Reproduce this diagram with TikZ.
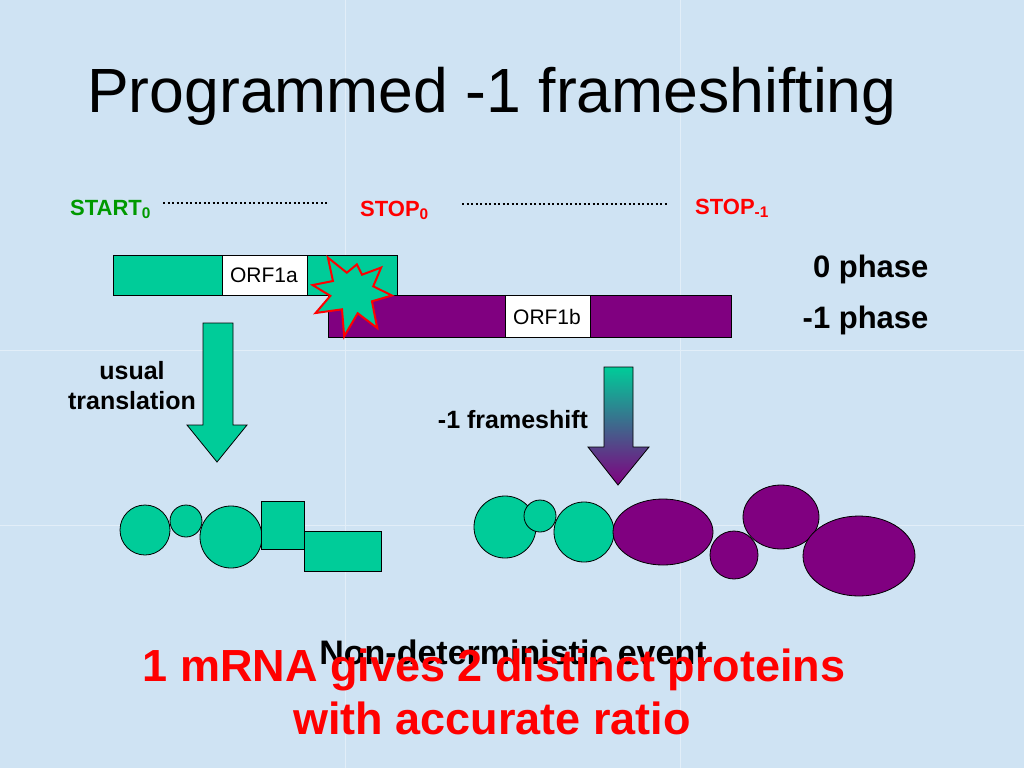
\documentclass[tikz,border=0pt]{standalone}
\usepackage{fontspec}
\setmainfont{Liberation Sans}
\usetikzlibrary{shapes.geometric}
\definecolor{bg}{HTML}{CFE3F3}
\definecolor{teal}{HTML}{00CC99}
\definecolor{purp}{HTML}{800080}
\definecolor{grn}{HTML}{009900}
\begin{document}
\begin{tikzpicture}[x=1pt,y=-1pt,
  gbox/.style={draw=black,fill=teal,line width=0.8pt},
  pbox/.style={draw=black,fill=purp,line width=0.8pt},
  lab/.style={font=\bfseries\fontsize{22}{25}\selectfont},
  mid/.style={font=\bfseries\fontsize{25}{30}\selectfont},
  small/.style={font=\fontsize{21}{24}\selectfont},
  phase/.style={font=\bfseries\fontsize{31}{34}\selectfont,anchor=base east},
  dots/.style={line width=2pt,dash pattern=on 2pt off 2.5pt}]
\useasboundingbox (0,0) rectangle (1024,768);
\fill[bg] (0,0) rectangle (1024,768);
\draw[white!40!bg,line width=1pt] (345,0)--(345,768) (680,0)--(680,768) (0,350)--(1024,350) (0,525)--(1024,525);
\node[font=\fontsize{62.5}{68}\selectfont,anchor=base west,inner sep=0pt] (title) at (87,112) {Programmed -1 frameshifting};
% labels
\node[lab,text=grn,anchor=base west,inner sep=0pt] (start) at (70,215) {START\textsubscript{0}};
\node[lab,text=red,anchor=base west,inner sep=0pt] (stop0) at (360,216) {STOP\textsubscript{0}};
\node[lab,text=red,anchor=base west,inner sep=0pt] (stop1) at (695,214) {STOP\textsubscript{-1}};
\coordinate (d1a) at (163,203); \coordinate (d1b) at (328,203);
\coordinate (d2a) at (462,204); \coordinate (d2b) at (668,204);
\draw[dots] (d1a)--(d1b); \draw[dots] (d2a)--(d2b);
% ORF boxes
\draw[gbox] (113,255) rectangle (397,295);
\draw[line width=0.8pt,fill=white] (222,255) rectangle (307,295);
\node[small] (orfa) at (264,275) {ORF1a};
\draw[pbox] (328,295) rectangle (731,337);
\draw[line width=0.8pt,fill=white] (505,295) rectangle (590,337);
\node[small] (orfb) at (547,317) {ORF1b};
% starburst
\draw[red,fill=teal,line width=2pt] (352,292)
  +(100:45) -- +(120:20) -- +(150:42) -- +(170:22) -- +(190:40) -- +(210:22) -- +(235:42) -- +(255:20) -- +(280:28) -- +(300:20) -- +(320:38) -- +(345:22) -- +(5:40) -- +(25:22) -- +(55:44) -- +(75:22) -- cycle;
\node[phase] (ph0) at (932,277) {0 phase};
\node[phase] (ph1) at (932,328) {-1 phase};
% arrows
\draw[black,fill=teal,line width=0.8pt] (203,323)--(233,323)--(233,425)--(247,425)--(217,462)--(187,425)--(203,425)--cycle;
\node[mid,align=center] (usual) at (132,386) {usual\\translation};
\shade[top color=teal,bottom color=purp,draw=black,line width=0.8pt] (604,367)--(633,367)--(633,447)--(649,447)--(618,485)--(588,447)--(604,447)--cycle;
\node[mid] (fs) at (513,420) {-1 frameshift};
% proteins
\tikzset{g/.style={draw=black,fill=teal,line width=0.8pt},p/.style={draw=black,fill=purp,line width=0.8pt}}
\draw[g] (145,530) circle (25);
\draw[g] (186,521) circle (16);
\draw[g] (231,537) circle (31);
\draw[g] (261,501) rectangle (304,549);
\draw[g] (304,531) rectangle (381,571);
\draw[g] (505,527) circle (31);
\draw[g] (540,516) circle (16);
\draw[g] (584,532) circle (30);
\draw[p] (663,532) ellipse [x radius=50,y radius=33];
\draw[p] (734,555) circle (24);
\draw[p] (781,517) ellipse [x radius=38,y radius=32];
\draw[p] (859,556) ellipse [x radius=56,y radius=40];
% bottom text
\node[font=\bfseries\fontsize{34}{38}\selectfont,anchor=base] (nd) at (513,664) {Non-deterministic event};
\node[font=\bfseries\fontsize{45}{52}\selectfont,text=red,anchor=base] (msg1) at (494,681) {1 mRNA gives 2 distinct proteins};
\node[font=\bfseries\fontsize{45}{52}\selectfont,text=red,anchor=base] (msg2) at (492,734) {with accurate ratio};
\end{tikzpicture}
\end{document}
